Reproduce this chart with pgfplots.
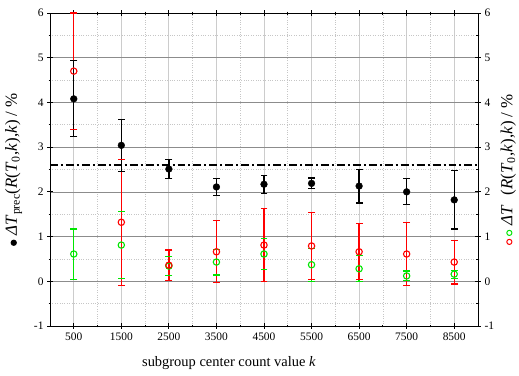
\documentclass[border=0pt]{standalone}
\usepackage{fontspec}
\setmainfont{Liberation Serif}
\usepackage{pgfplots}
\pgfplotsset{compat=1.18}
\definecolor{mygreen}{RGB}{0,230,0}
\definecolor{myred}{RGB}{255,0,0}
\begin{document}
\begin{tikzpicture}
\useasboundingbox (-50bp,-50bp) rectangle (469bp,326bp);
\pgfplotsset{
  common/.style={
    scale only axis, width=428bp, height=313bp,
    at={(0,0)}, anchor=south west,
    xmin=0, xmax=9000, ymin=-1, ymax=6,
    ytick={-1,0,...,6},
    minor ytick={-0.5,0.5,...,5.5},
    axis line style={black, line width=0.9pt},
    tick style={black, line width=0.8pt},
    tick align=center,
    major tick length=6pt,
    minor tick length=3pt,
    /pgf/number format/assume math mode=true,
    ticklabel style={font=\fontsize{11.5}{12}\selectfont},
  },
  whisker/.style={line width=1.4pt, mark=-, mark size=3.5pt, mark options={line width=1.1pt, solid}, unbounded coords=jump},
}
% frame, grid, ticks and labels
\begin{axis}[common,
  xtick={500,1500,...,8500},
  minor xtick={1000,2000,...,8000},
  xticklabels={500,1500,2500,3500,4500,5500,6500,7500,8500},
  grid=both,
  major x grid style={gray!40, line width=0.9pt},
  major y grid style={gray!90, line width=0.7pt},
  minor grid style={gray!45, dotted, line width=0.6pt},
  yticklabel pos=left,
  xlabel={subgroup center count value \textit{k}},
  every axis x label/.style={at={(axis description cs:0.418,0)}, yshift=-37bp, anchor=center, font=\fontsize{14.5}{16}\selectfont},
  ylabel={\tikz\fill[black] (0,0) circle (3.2pt);\ \textit{ΔT}\textsubscript{prec}(\textit{R}(\textit{T}\textsubscript{0},\textit{k}),\textit{k}) / \%},
  every axis y label/.style={at={(axis description cs:-0.085,0.5)}, rotate=90, anchor=center, font=\fontsize{17}{18}\selectfont},
]
\addplot[draw=none] coordinates {(0,0)};
\end{axis}
% data
\begin{axis}[common, hide axis, clip=false]
\addplot[black, line width=1.1pt, dash pattern=on 8pt off 3pt on 2pt off 3pt] coordinates {(0,2.6) (9000,2.6)};
% green series: error bars (low/high)
\addplot[mygreen, whisker] coordinates {
  (500,0.05) (500,1.17) (500,nan)
  (1500,0.06) (1500,1.56) (1500,nan)
  (2500,0.12) (2500,0.56) (2500,nan)
  (3500,0.14) (3500,0.72) (3500,nan)
  (4500,0.27) (4500,0.95) (4500,nan)
  (5500,0.00) (5500,0.74) (5500,nan)
  (6500,-0.01) (6500,0.57) (6500,nan)
  (7500,0.01) (7500,0.23) (7500,nan)
  (8500,0.07) (8500,0.25)
};
% red series: error bars (low/high)
\addplot[myred, whisker] coordinates {
  (500,3.40) (500,6.00) (500,nan)
  (1500,-0.09) (1500,2.73) (1500,nan)
  (2500,0.02) (2500,0.70) (2500,nan)
  (3500,-0.03) (3500,1.35) (3500,nan)
  (4500,0.00) (4500,1.62) (4500,nan)
  (5500,0.05) (5500,1.53) (5500,nan)
  (6500,0.03) (6500,1.29) (6500,nan)
  (7500,-0.09) (7500,1.31) (7500,nan)
  (8500,-0.06) (8500,0.92)
};
\addplot[mygreen, only marks, mark=o, mark size=3.2pt, mark options={line width=1.1pt, fill=white}] coordinates {
  (500,0.61) (1500,0.81) (2500,0.34) (3500,0.43) (4500,0.61)
  (5500,0.37) (6500,0.28) (7500,0.12) (8500,0.16)
};
\addplot[myred, only marks, mark=o, mark size=3.2pt, mark options={line width=1.1pt, fill=white}] coordinates {
  (500,4.70) (1500,1.32) (2500,0.36) (3500,0.66) (4500,0.81)
  (5500,0.79) (6500,0.66) (7500,0.61) (8500,0.43)
};
% black series: error bars (low/high) and values
\addplot[black, whisker] coordinates {
  (500,3.23) (500,4.93) (500,nan)
  (1500,2.46) (1500,3.62) (1500,nan)
  (2500,2.29) (2500,2.73) (2500,nan)
  (3500,1.92) (3500,2.30) (3500,nan)
  (4500,1.97) (4500,2.37) (4500,nan)
  (5500,2.07) (5500,2.31) (5500,nan)
  (6500,1.75) (6500,2.51) (6500,nan)
  (7500,1.71) (7500,2.29) (7500,nan)
  (8500,1.17) (8500,2.47)
};
\addplot[black, only marks, mark=*, mark size=3.4pt] coordinates {
  (500,4.08) (1500,3.04) (2500,2.51) (3500,2.11) (4500,2.17)
  (5500,2.19) (6500,2.13) (7500,2.00) (8500,1.82)
};
\end{axis}
% right axis
\begin{axis}[common,
  axis x line=none,
  axis y line*=right,
  yticklabel pos=right,
  ylabel={\tikz\draw[myred, line width=1pt] (0,0) circle (2.6pt);\,\tikz\draw[mygreen, line width=1pt] (0,0) circle (2.6pt);\ \textit{ΔT}\hspace{0.6em}(\textit{R}(\textit{T}\textsubscript{0},\textit{k}),\textit{k}) / \%},
  every axis y label/.style={at={(axis description cs:1.071,0.5)}, rotate=90, anchor=center, font=\fontsize{17}{18}\selectfont},
]
\addplot[draw=none] coordinates {(0,0)};
\end{axis}
\end{tikzpicture}
\end{document}
